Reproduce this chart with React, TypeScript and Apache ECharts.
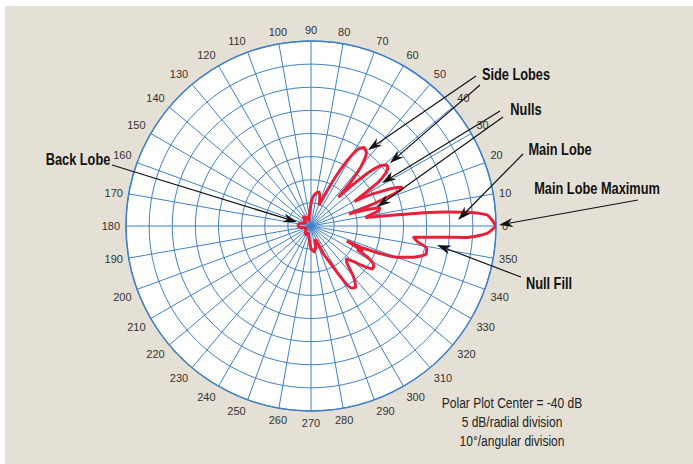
import React, { useEffect, useRef } from 'react';
import * as echarts from 'echarts';

// Antenna pattern: angle (degrees, CCW from right) and level (dB, plot centre = -40 dB)
const patternAngles = [
  0, 2, 3.6, 5, 6, 6.8, 7.3, 8, 9, 11, 13, 15, 16.5, 17.5, 19, 21, 22, 23, 24.5, 26, 28, 29.5,
  31, 33, 35, 37, 39, 41, 43, 45, 46.5, 48, 50, 53, 56, 58.5, 61, 63.5, 66, 69, 72, 76, 82, 88,
  92, 100, 110, 120, 130, 140, 150, 165, 175, 185, 195, 210, 225, 240, 250, 260, 268, 272, 277,
  282, 287, 291, 294, 297, 300, 303, 306, 310, 314, 317, 320, 323, 325, 328, 331, 333, 334,
  335.5, 337.5, 337, 340, 343, 346, 349, 351.5, 353.7, 355, 355.8, 357.6, 360,
];
const patternDb = [
  0, -0.9, -1.9, -5.8, -10.8, -16.2, -20.5, -24.4, -28.1, -26.6, -24.9, -24.6, -28.1, -31.4,
  -27.0, -21.6, -19.0, -18.6, -20.1, -22.7, -25.9, -29.2, -27.0, -22.7, -20.5, -19.2, -19.0,
  -20.1, -23.1, -28.1, -31.4, -27.0, -23.1, -20.1, -19.5, -20.5, -23.8, -28.1, -32.4, -35.2,
  -33.9, -32.4, -32.9, -34.2, -36.1, -37.8, -38.7, -37.8, -37.4, -38.3, -38.7, -37.6, -37.2,
  -37.4, -38.5, -38.9, -38.3, -37.8, -38.3, -37.4, -35.7, -34.8, -34.4, -35.2, -37.0, -36.5,
  -33.5, -31.4, -27.5, -24.0, -23.6, -25.7, -28.8, -29.6, -28.1, -25.3, -23.8, -24.0, -26.0,
  -28.8, -27.5, -29.6, -31.6, -27.7, -20.3, -16.9, -14.5, -14.5, -16.7, -17.7, -12.1, -6.3,
  -1.9, 0,
];

const annotationLabels = ['Side Lobes', 'Nulls', 'Main Lobe', 'Main Lobe Maximum', 'Null Fill', 'Back Lobe'];
const noteLines = ['Polar Plot Center = -40 dB', '5 dB/radial division', '10°/angular division'];

const SANS = "'Liberation Sans', Arial, sans-serif";
const GRID = '#3f80c8';

function arrow(x1: number, y1: number, x2: number, y2: number) {
  const dx = x2 - x1;
  const dy = y2 - y1;
  const L = Math.hypot(dx, dy);
  const ux = dx / L;
  const uy = dy / L;
  const hl = 14;
  const hw = 4.5;
  const bx = x2 - ux * hl;
  const by = y2 - uy * hl;
  const nx = x2 - ux * hl * 0.7;
  const ny = y2 - uy * hl * 0.7;
  return [
    { type: 'line', shape: { x1, y1, x2: nx, y2: ny }, style: { stroke: '#111', lineWidth: 1.2 }, z: 50 },
    {
      type: 'polygon',
      shape: { points: [[x2, y2], [bx - uy * hw, by + ux * hw], [nx, ny], [bx + uy * hw, by - ux * hw]] },
      style: { fill: '#111' },
      z: 50,
    },
  ];
}

function label(text: string, x: number, y: number, size: number, bold: boolean, fill: string) {
  return {
    type: 'text',
    x,
    y,
    scaleX: 0.8,
    z: 50,
    style: {
      text,
      fill,
      font: `${bold ? 'bold ' : ''}${size}px ${SANS}`,
      textAlign: 'center',
      textVerticalAlign: 'middle',
    },
  };
}

const CX = 311;
const CY = 226;
const R = 185;

export default function App() {
  const ref = useRef<HTMLDivElement>(null);

  useEffect(() => {
    if (!ref.current) return;
    const chart = echarts.init(ref.current, undefined, { renderer: 'svg' });

    const graphics: any[] = [
      label(annotationLabels[0], 516, 74, 16, true, '#111'),
      label(annotationLabels[1], 526, 109, 16, true, '#111'),
      label(annotationLabels[2], 560, 149, 16, true, '#111'),
      label(annotationLabels[3], 597, 188, 16, true, '#111'),
      label(annotationLabels[4], 549, 283, 16, true, '#111'),
      label(annotationLabels[5], 78, 159, 16, true, '#111'),
      label(noteLines[0], 512, 403, 15, false, '#222'),
      label(noteLines[1], 512, 422, 15, false, '#222'),
      label(noteLines[2], 512, 441, 15, false, '#222'),
      ...arrow(476, 76, 368, 150),
      ...arrow(480, 85, 390, 163),
      ...arrow(500, 111, 382, 183),
      ...arrow(503, 117, 377, 207),
      ...arrow(523, 154, 458, 220),
      ...arrow(638, 200, 499, 225),
      ...arrow(521, 277, 437, 245),
      ...arrow(112, 165, 297, 222),
    ];

    chart.setOption({
      animation: false,
      backgroundColor: 'transparent',
      polar: { center: [CX, CY], radius: R },
      angleAxis: {
        type: 'value',
        min: 0,
        max: 360,
        interval: 10,
        startAngle: 0,
        clockwise: false,
        axisLine: { show: true, lineStyle: { color: GRID, width: 1.5 } },
        axisTick: { show: false },
        axisLabel: {
          margin: 6,
          color: '#333',
          fontSize: 11,
          fontFamily: SANS,
          formatter: (v: number) => (v >= 360 ? '' : String(v)),
        },
        splitLine: { show: true, lineStyle: { color: GRID, width: 1 } },
      },
      radiusAxis: {
        type: 'value',
        min: -40,
        max: 0,
        interval: 5,
        axisLine: { show: false },
        axisTick: { show: false },
        axisLabel: { show: false },
        splitLine: { show: true, lineStyle: { color: GRID, width: 1 } },
      },
      series: [
        {
          type: 'line',
          coordinateSystem: 'polar',
          data: patternAngles.map((a, i) => [patternDb[i], a]),
          symbol: 'none',
          smooth: 0.2,
          silent: true,
          lineStyle: { color: '#e8213b', width: 3 },
          z: 10,
        },
      ],
      graphic: graphics,
    });

    return () => chart.dispose();
  }, []);

  return (
    <div style={{ position: 'fixed', left: 0, top: 0, width: 693, height: 464, background: '#ffffff' }}>
      <div style={{ position: 'absolute', left: 5, top: 6, right: 0, bottom: 0, background: '#e5e0d6' }} />
      <div
        style={{
          position: 'absolute',
          left: CX - R,
          top: CY - R,
          width: 2 * R,
          height: 2 * R,
          borderRadius: '50%',
          background: '#ffffff',
        }}
      />
      <div ref={ref} style={{ position: 'absolute', left: 0, top: 0, width: 693, height: 464 }} />
    </div>
  );
}
